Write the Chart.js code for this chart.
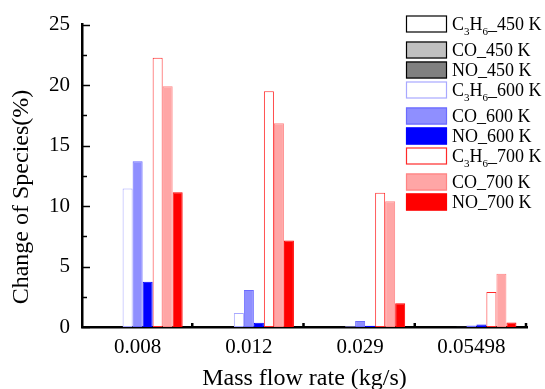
<!DOCTYPE html>
<html>
<head>
<meta charset="utf-8">
<script src="https://cdn.jsdelivr.net/npm/chart.js@4.4.1/dist/chart.umd.min.js"></script>
<style>
  html, body { margin: 0; padding: 0; background: #fff; }
</style>
</head>
<body>
<canvas id="speciesChart" width="545" height="389"></canvas>
<script>
// Mass flow rates on the x axis
var flowRates = ['0.008', '0.012', '0.029', '0.05498'];

// Change of species (%) per series
var c3h6_450 = [0, 0, 0, 0];
var co_450 = [0, 0, 0, 0];
var no_450 = [0, 0, 0, 0];
var c3h6_600 = [11.45, 1.15, 0.06, 0.02];
var co_600 = [13.7, 3.05, 0.5, 0.12];
var no_600 = [3.75, 0.35, 0.1, 0.2];
var c3h6_700 = [22.25, 19.5, 11.1, 2.9];
var co_700 = [19.9, 16.85, 10.4, 4.4];
var no_700 = [11.15, 7.15, 1.97, 0.38];

var seriesLabels = ['C₃H₆_450 K', 'CO_450 K', 'NO_450 K',
                    'C₃H₆_600 K', 'CO_600 K', 'NO_600 K',
                    'C₃H₆_700 K', 'CO_700 K', 'NO_700 K'];

var yTicks = [0, 5, 10, 15, 20, 25];

var serif = '"Liberation Serif", "Times New Roman", serif';

function makeSet(i, data, fill, border) {
    return {
        label: seriesLabels[i],
        data: data,
        backgroundColor: fill,
        borderColor: border,
        borderWidth: 1,
        borderSkipped: false,
        inflateAmount: 0
    };
}

// Ticks drawn inward, like the original plot
var innerTicks = {
    id: 'innerTicks',
    afterDraw: function(chart) {
        var ctx = chart.ctx;
        var x = chart.scales.x, y = chart.scales.y;
        ctx.save();
        ctx.strokeStyle = '#000';
        ctx.lineWidth = 1.5;
        y.ticks.forEach(function(t) {
            var py = Math.round(y.getPixelForValue(t.value)) + 0.5;
            var len = (yTicks.indexOf(t.value) >= 0) ? 8 : 5;
            ctx.beginPath();
            ctx.moveTo(y.right, py);
            ctx.lineTo(y.right + len, py);
            ctx.stroke();
        });
        ctx.lineWidth = 2.5;
        var step = (x.right - x.left) / flowRates.length;
        for (var i = 1; i <= flowRates.length; i++) {
            var px = x.left + i * step - 1;
            ctx.beginPath();
            ctx.moveTo(px, x.top);
            ctx.lineTo(px, x.top - 4);
            ctx.stroke();
        }
        ctx.restore();
    }
};

// y title and the in-plot legend
var annotations = {
    id: 'annotations',
    afterDraw: function(chart) {
        var ctx = chart.ctx;
        ctx.save();
        ctx.fillStyle = '#000';
        ctx.font = '24px ' + serif;
        ctx.textAlign = 'center';
        ctx.textBaseline = 'middle';
        ctx.translate(22, 197);
        ctx.rotate(-Math.PI / 2);
        ctx.fillText('Change of Species(%)', 0, 0);
        ctx.restore();

        ctx.save();
        var yPos = 24;
        chart.data.datasets.forEach(function(ds) {
            ctx.fillStyle = ds.backgroundColor;
            ctx.fillRect(406, yPos - 8.5, 41, 17);
            ctx.strokeStyle = ds.borderColor;
            ctx.lineWidth = 1.2;
            ctx.strokeRect(406.5, yPos - 8, 40, 16);
            // label text with subscripts
            var tx = 452;
            var hasSub = false;
            ctx.fillStyle = '#000';
            ctx.textAlign = 'left';
            ctx.textBaseline = 'alphabetic';
            Array.from(ds.label).forEach(function(ch) {
                var code = ch.charCodeAt(0);
                if (code >= 0x2080 && code <= 0x2089) {
                    hasSub = true;
                    ctx.font = '11px ' + serif;
                    var d = String(code - 0x2080);
                    ctx.fillText(d, tx, yPos + 11);
                    tx += ctx.measureText(d).width;
                } else {
                    ctx.font = '18px ' + serif;
                    ctx.fillText(ch, tx, yPos + 6);
                    tx += ctx.measureText(ch).width;
                }
            });
            yPos += hasSub ? 26 : 20;
        });
        ctx.restore();
    }
};

var ctx = document.getElementById('speciesChart').getContext('2d');
new Chart(ctx, {
    type: 'bar',
    data: {
        labels: flowRates,
        datasets: [
            makeSet(0, c3h6_450, '#ffffff', '#000000'),
            makeSet(1, co_450, '#c0c0c0', '#000000'),
            makeSet(2, no_450, '#808080', '#000000'),
            makeSet(3, c3h6_600, '#ffffff', '#a8a8ff'),
            makeSet(4, co_600, '#8f8fff', '#6b6bff'),
            makeSet(5, no_600, '#0000ff', '#0000ff'),
            makeSet(6, c3h6_700, '#ffffff', '#ff2a2a'),
            makeSet(7, co_700, '#ffa6a6', '#ff8484'),
            makeSet(8, no_700, '#ff0000', '#ff0000')
        ]
    },
    options: {
        responsive: false,
        animation: false,
        devicePixelRatio: 1,
        layout: { padding: { top: 21, right: 18, left: 0, bottom: 0 } },
        datasets: {
            bar: { barPercentage: 1.0, categoryPercentage: 0.81 }
        },
        scales: {
            x: {
                grid: { display: false, drawTicks: false },
                border: { display: true, color: '#000', width: 2.5 },
                ticks: {
                    color: '#000',
                    padding: 8,
                    font: { family: serif, size: 21 }
                },
                title: {
                    display: true,
                    text: 'Mass flow rate (kg/s)',
                    color: '#000',
                    padding: { top: 0, bottom: -4 },
                    font: { family: serif, size: 24 }
                },
                afterFit: function(scale) { scale.height = 62; }
            },
            y: {
                min: 0,
                max: 25,
                grid: { display: false, drawTicks: false },
                border: { display: true, color: '#000', width: 2.5 },
                ticks: {
                    stepSize: 2.5,
                    color: '#000',
                    padding: 12,
                    font: { family: serif, size: 21 },
                    callback: function(v) { return yTicks.indexOf(v) >= 0 ? v : ''; }
                },
                afterFit: function(scale) { scale.width = 82; }
            }
        },
        plugins: {
            legend: { display: false },
            tooltip: { enabled: false }
        }
    },
    plugins: [innerTicks, annotations]
});
</script>
</body>
</html>
